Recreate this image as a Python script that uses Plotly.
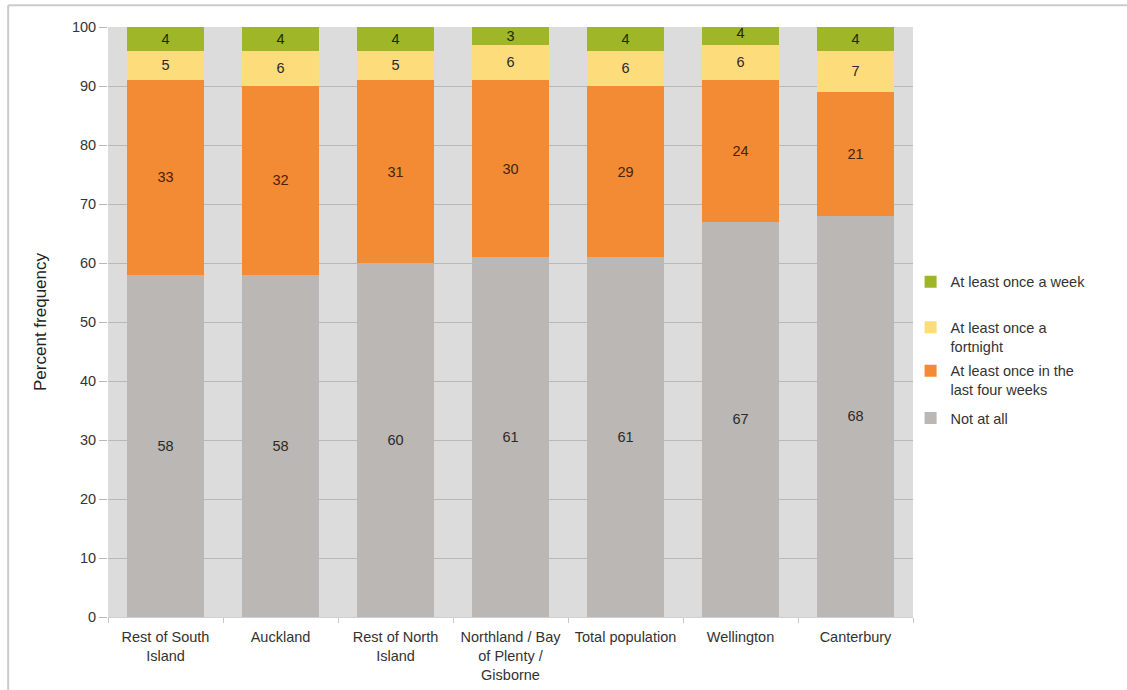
import plotly.graph_objects as go

# Regions (x-axis categories)
regions = [
    "Rest of South<br>Island",
    "Auckland",
    "Rest of North<br>Island",
    "Northland / Bay<br>of Plenty /<br>Gisborne",
    "Total population",
    "Wellington",
    "Canterbury",
]

# Percent frequency by category (stacked bottom to top)
not_at_all = [58, 58, 60, 61, 61, 67, 68]
last_four_weeks = [33, 32, 31, 30, 29, 24, 21]
fortnight = [5, 6, 5, 6, 6, 6, 7]
weekly = [4, 4, 4, 3, 4, 4, 4]

y_ticks = [0, 10, 20, 30, 40, 50, 60, 70, 80, 90, 100]

FONT = "Liberation Sans, Arial, Helvetica, sans-serif"

# name, values, fill, label colour, legend id, legend centre (paper y)
series = [
    ("Not at all", not_at_all, "#bbb7b4", "#2a2a2a", "legend4", 0.337),
    ("At least once in the<br>last four weeks", last_four_weeks, "#f38b34", "#4a2208", "legend3", 0.401),
    ("At least once a<br>fortnight", fortnight, "#fddc7c", "#2a2a2a", "legend2", 0.475),
    ("At least once a week", weekly, "#9fb629", "#1e2a06", "legend", 0.568),
]

fig = go.Figure()
legend_layout = {}
for name, vals, color, tcolor, leg, ly in series:
    fig.add_trace(go.Bar(
        x=regions,
        y=vals,
        name=name,
        legend=leg,
        marker=dict(color=color, line=dict(width=0)),
        text=[str(v) for v in vals],
        textposition="inside",
        insidetextanchor="middle",
        textangle=0,
        textfont=dict(family=FONT, size=14.5, color=tcolor),
        constraintext="none",
    ))
    legend_layout[leg] = dict(
        x=0.997, y=ly, xanchor="left", yanchor="middle",
        valign="top",
        font=dict(family=FONT, size=14.5, color="#333333"),
        itemwidth=30,
        bgcolor="rgba(0,0,0,0)",
    )

fig.update_layout(
    barmode="stack",
    bargap=0.33,
    width=1127,
    height=690,
    margin=dict(l=108, r=214, t=27, b=73),
    paper_bgcolor="white",
    plot_bgcolor="#dcdcdc",
    font=dict(family=FONT, size=14.5, color="#333333"),
    uniformtext=dict(minsize=12, mode="show"),
    showlegend=True,
    xaxis=dict(
        automargin=False,
        showgrid=False,
        tickson="boundaries",
        ticks="outside",
        ticklen=5,
        tickcolor="#c8c8c8",
        showline=True,
        linecolor="#d0d0d0",
        linewidth=1,
        ticklabelstandoff=7,
        tickfont=dict(family=FONT, size=14.5, color="#333333"),
    ),
    yaxis=dict(
        automargin=False,
        range=[0, 100],
        tickvals=y_ticks,
        showgrid=True,
        gridcolor="#b8b8b8",
        gridwidth=1,
        ticks="outside",
        ticklen=8,
        tickcolor="#b8b8b8",
        zeroline=False,
        tickfont=dict(family=FONT, size=14.5, color="#333333"),
        title=dict(text="Percent frequency", font=dict(family=FONT, size=17, color="#222222"), standoff=20),
    ),
    **legend_layout,
)

# Thin frame lines along the top and left of the figure
fig.add_shape(type="line", xref="paper", yref="paper",
              x0=-0.124, x1=1.27, y0=1.037, y1=1.037,
              line=dict(color="#cccccc", width=2))
fig.add_shape(type="line", xref="paper", yref="paper",
              x0=-0.124, x1=-0.124, y0=-0.124, y1=1.037,
              line=dict(color="#cccccc", width=2))

fig.write_html("out.html")
